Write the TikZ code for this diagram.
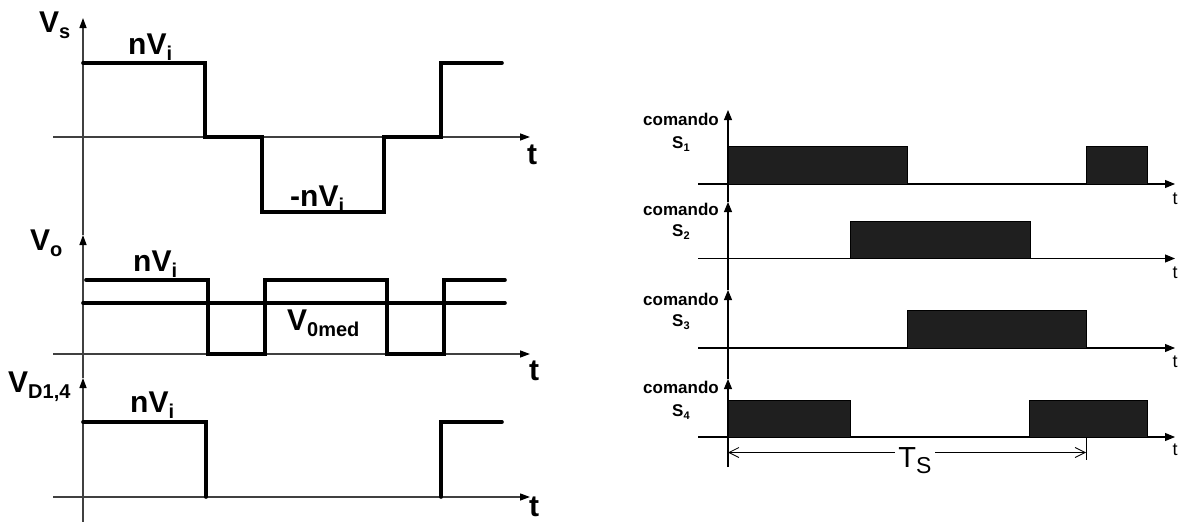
\documentclass[tikz,border=0pt]{standalone}
\usepackage{fontspec}
\setmainfont{Liberation Sans}
\usetikzlibrary{arrows.meta}

\newcommand{\lsub}[1]{\raisebox{-0.22em}{\fontsize{20}{20}\selectfont #1}}
\newcommand{\ssub}[1]{\raisebox{-0.2em}{\fontsize{11}{11}\selectfont #1}}

\tikzset{
    axline/.style={draw=black!75, line width=1.3pt, -{Triangle[length=10pt,width=7pt,color=black]}},
    sigline/.style={draw=black, line width=1.1pt, -{Triangle[length=10pt,width=8pt]}},
    wave/.style={line width=3.6pt, line cap=round},
    pulse/.style={draw=black, fill=black!88, line width=0.8pt},
    biglbl/.style={font=\fontsize{30}{32}\selectfont\bfseries, inner sep=0pt},
    cmdlbl/.style={font=\fontsize{17}{19}\selectfont\bfseries, inner sep=0pt},
    tlbl/.style={font=\fontsize{18}{20}\selectfont, inner sep=0pt}
}

\begin{document}
\begin{tikzpicture}[x=1pt,y=-1pt]
    \useasboundingbox (0,0) rectangle (1179,522);

    % left side: axes
    \coordinate (lbot) at (83,522);
    \coordinate (vdtop) at (83,378);
    \coordinate (votop) at (83,235);
    \coordinate (vstop) at (83,18);
    \draw[axline] (lbot) -- (vdtop);
    \draw[axline] (vdtop) -- (votop);
    \draw[axline] (votop) -- (vstop);
    \coordinate (vsl) at (53,137);  \coordinate (vsr) at (530,137);
    \coordinate (vol) at (53,354);  \coordinate (vor) at (530,354);
    \coordinate (vdl) at (53,497);  \coordinate (vdr) at (530,497);
    \draw[axline] (vsl) -- (vsr);
    \draw[axline] (vol) -- (vor);
    \draw[axline] (vdl) -- (vdr);

    % left side: waveforms
    \draw[wave] (83,63) -- (205,63) -- (205,137) -- (262,137) -- (262,212) -- (384,212)
        -- (384,137) -- (441,137) -- (441,63) -- (502,63);
    \draw[wave] (86,280) -- (208,280) -- (208,354) -- (265,354) -- (265,280) -- (387,280)
        -- (387,354) -- (444,354) -- (444,280) -- (505,280);
    \draw[wave] (83,303) -- (505,303);
    \draw[wave] (83,422) -- (206,422) -- (206,497);
    \draw[wave] (441,497) -- (441,422) -- (502,422);

    % left side: labels
    \node[biglbl, anchor=base west] (vs) at (39,32) {V\lsub{s}};
    \node[biglbl, anchor=base west] (vo) at (30,250) {V\lsub{o}};
    \node[biglbl, anchor=base west] (vd) at (8,392) {V\lsub{D1,4}};
    \node[biglbl, anchor=base west] (nvs) at (128,54) {nV\lsub{i}};
    \node[biglbl, anchor=base west] (mnvs) at (290,206) {-nV\lsub{i}};
    \node[biglbl, anchor=base west] (nvo) at (133,271) {nV\lsub{i}};
    \node[biglbl, anchor=base west] (vmed) at (287,330) {V\lsub{0med}};
    \node[biglbl, anchor=base west] (nvd) at (130,412) {nV\lsub{i}};
    \node[biglbl] (ts) at (532,155) {t};
    \node[biglbl] (to) at (534,371) {t};
    \node[biglbl] (td) at (534,507) {t};

    % right side: axes
    \coordinate (rbot) at (728,467);
    \coordinate (s4top) at (728,379);
    \coordinate (s3top) at (728,290);
    \coordinate (s2top) at (728,202);
    \coordinate (s1top) at (728,110);
    \draw[sigline] (rbot) -- (s4top);
    \draw[sigline] (s4top) -- (s3top);
    \draw[sigline] (s3top) -- (s2top);
    \draw[sigline] (s2top) -- (s1top);
    \coordinate (s1l) at (698,184);   \coordinate (s1r) at (1175,184);
    \coordinate (s2l) at (698,258.5); \coordinate (s2r) at (1175,258.5);
    \coordinate (s3l) at (698,348);   \coordinate (s3r) at (1175,348);
    \coordinate (s4l) at (698,437);   \coordinate (s4r) at (1175,437);
    \draw[sigline] (s1l) -- (s1r);
    \draw[sigline] (s2l) -- (s2r);
    \draw[sigline] (s3l) -- (s3r);
    \draw[sigline] (s4l) -- (s4r);

    % right side: gate pulses
    \draw[pulse] (728,146.5) rectangle (907,184);
    \draw[pulse] (1086,146.5) rectangle (1147,184);
    \draw[pulse] (850,221) rectangle (1030,258.5);
    \draw[pulse] (907,310) rectangle (1086,348);
    \draw[pulse] (728,400) rectangle (850,437);
    \draw[pulse] (1029,400) rectangle (1147,437);

    % right side: labels
    \node[cmdlbl, anchor=base east] (c1) at (719,125) {comando};
    \node[cmdlbl, anchor=base east] (c2) at (719,215) {comando};
    \node[cmdlbl, anchor=base east] (c3) at (719,305) {comando};
    \node[cmdlbl, anchor=base east] (c4) at (719,393) {comando};
    \node[cmdlbl, anchor=base west] (g1) at (672,148) {S\ssub{1}};
    \node[cmdlbl, anchor=base west] (g2) at (672,236) {S\ssub{2}};
    \node[cmdlbl, anchor=base west] (g3) at (672,326) {S\ssub{3}};
    \node[cmdlbl, anchor=base west] (g4) at (672,416) {S\ssub{4}};
    \node[tlbl] (t1) at (1175,199) {t};
    \node[tlbl] (t2) at (1175,273) {t};
    \node[tlbl] (t3) at (1175,362) {t};
    \node[tlbl] (t4) at (1175,450) {t};

    % switching period
    \coordinate (pa) at (728,452.5);
    \coordinate (pb) at (1086,452.5);
    \coordinate (pt) at (1086,460);
    \draw[line width=0.8pt] (s4r -| pb) -- (pt);
    \draw[line width=0.8pt, {Straight Barb[length=10pt,width=10pt]}-{Straight Barb[length=10pt,width=10pt]}] (pa) -- (pb);
    \node[fill=white, inner sep=3pt, font=\fontsize{29}{30}\selectfont] (per) at (915,461) {T\raisebox{-0.2em}{\fontsize{23}{23}\selectfont S}};
\end{tikzpicture}
\end{document}
